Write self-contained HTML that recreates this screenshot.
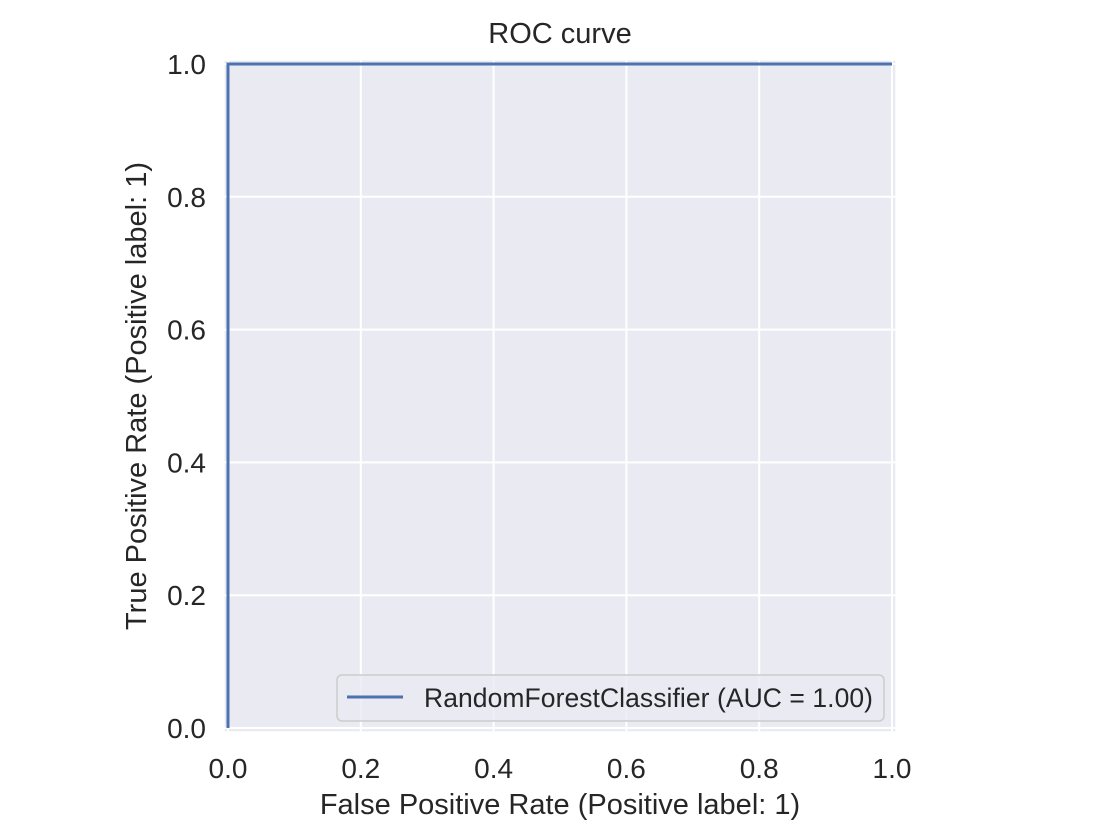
<!DOCTYPE html>
<html><head><meta charset="utf-8"><style>
body{margin:0;background:#fff;}
svg{display:block;font-family:"Liberation Sans","DejaVu Sans",sans-serif;}
</style></head><body>
<svg width="1120" height="840" viewBox="0 0 1120 840">
<g id="plot"></g>
</svg>
<script>
const fpr=[0,0,1];
const tpr=[0,1,1];
const xTicks=[0,0.2,0.4,0.6,0.8,1.0];
const yTicks=[0,0.2,0.4,0.6,0.8,1.0];
const tickLabels=["0.0","0.2","0.4","0.6","0.8","1.0"];
const legendLabel="RandomForestClassifier (AUC = 1.00)";

const NS="http://www.w3.org/2000/svg";
const g=document.getElementById('plot');
const x0=228,x1=892,y0=728,y1=64;
const X=v=>x0+(x1-x0)*v, Y=v=>y0+(y1-y0)*v;
function mk(t,a,txt){const e=document.createElementNS(NS,t);for(const k in a)e.setAttribute(k,a[k]);if(txt!==undefined)e.textContent=txt;g.appendChild(e);return e;}
const pad=(x1-x0)*0.005;
let bg=mk('rect',{x:x0-pad,y:y1-pad,width:(x1-x0)+2*pad,height:(y0-y1)+2*pad,fill:'#EAEAF2'});


xTicks.forEach((v,i)=>{
  let l=mk('line',{x1:X(v),x2:X(v),y1:y1-pad,y2:y0+pad,stroke:'#fff','stroke-width':2});
  
  
  let t=mk('text',{x:X(v),y:778,'text-anchor':'middle','font-size':28,fill:'#262626'},tickLabels[i]);
  
  
});
yTicks.forEach((v,i)=>{
  let l=mk('line',{x1:x0-pad,x2:x1+pad,y1:Y(v),y2:Y(v),stroke:'#fff','stroke-width':2});
  
  
  let t=mk('text',{x:206,y:Y(v)+10,'text-anchor':'end','font-size':28,fill:'#262626'},tickLabels[i]);
  
  
});
let p=mk('polyline',{points:fpr.map((v,i)=>X(v)+','+Y(tpr[i])).join(' '),fill:'none',stroke:'#4C72B0','stroke-width':3});


let lb=mk('rect',{x:337,y:675,width:547,height:46,rx:5,fill:'#EAEAF2','fill-opacity':0.8,stroke:'#cccccc','stroke-width':1.5});


let ll=mk('line',{x1:347,x2:403,y1:697,y2:697,stroke:'#4C72B0','stroke-width':3});


let lt=mk('text',{x:424,y:707,'font-size':26.5,'textLength':449,fill:'#262626'},legendLabel);


let tt=mk('text',{x:560,y:43,'text-anchor':'middle','font-size':29,fill:'#262626'},'ROC curve');


let xt=mk('text',{x:560,y:814,'text-anchor':'middle','font-size':29,fill:'#262626'},'False Positive Rate (Positive label: 1)');


let yt=mk('text',{x:0,y:0,'text-anchor':'middle','font-size':29,fill:'#262626',transform:'translate(146,396) rotate(-90)'},'True Positive Rate (Positive label: 1)');


</script>
</body></html>
